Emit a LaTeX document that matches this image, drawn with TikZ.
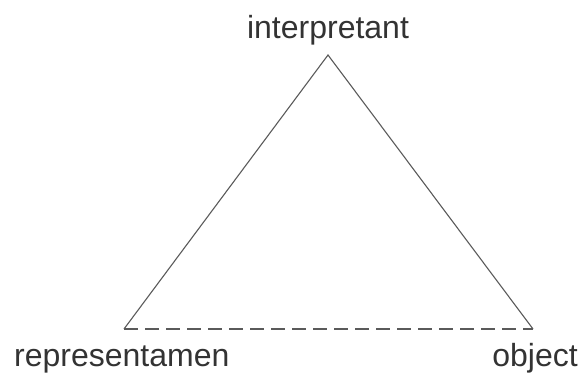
\documentclass[tikz,border=0pt]{standalone}
\usepackage{fontspec}
\setmainfont{Liberation Sans}
\usetikzlibrary{positioning}
\definecolor{edgegray}{HTML}{5A5A5A}
\definecolor{labelgray}{HTML}{333333}
\tikzset{
  corner label/.style={inner sep=0pt, anchor=base, text=labelgray,
    font=\fontsize{32}{38}\selectfont},
  side/.style={edgegray, line width=1.1pt},
  hidden side/.style={edgegray, line width=1.6pt, dash pattern=on 14pt off 7pt}
}
\begin{document}
\begin{tikzpicture}[x=1pt, y=1pt]
  \useasboundingbox (0,0) rectangle (582,375);

  \coordinate (int) at (328,320);
  \coordinate (rep) at (124,46);
  \coordinate (obj) at (533,46);

  \node[corner label] (intlabel) at (328,336) {interpretant};
  \node[corner label, anchor=base west] (replabel) at (14,8) {representamen};
  \node[corner label, anchor=base east] (objlabel) at (578,8) {object};

  \draw[side] (rep) -- (int) -- (obj);
  \draw[hidden side] (rep) -- (obj);
\end{tikzpicture}
\end{document}
